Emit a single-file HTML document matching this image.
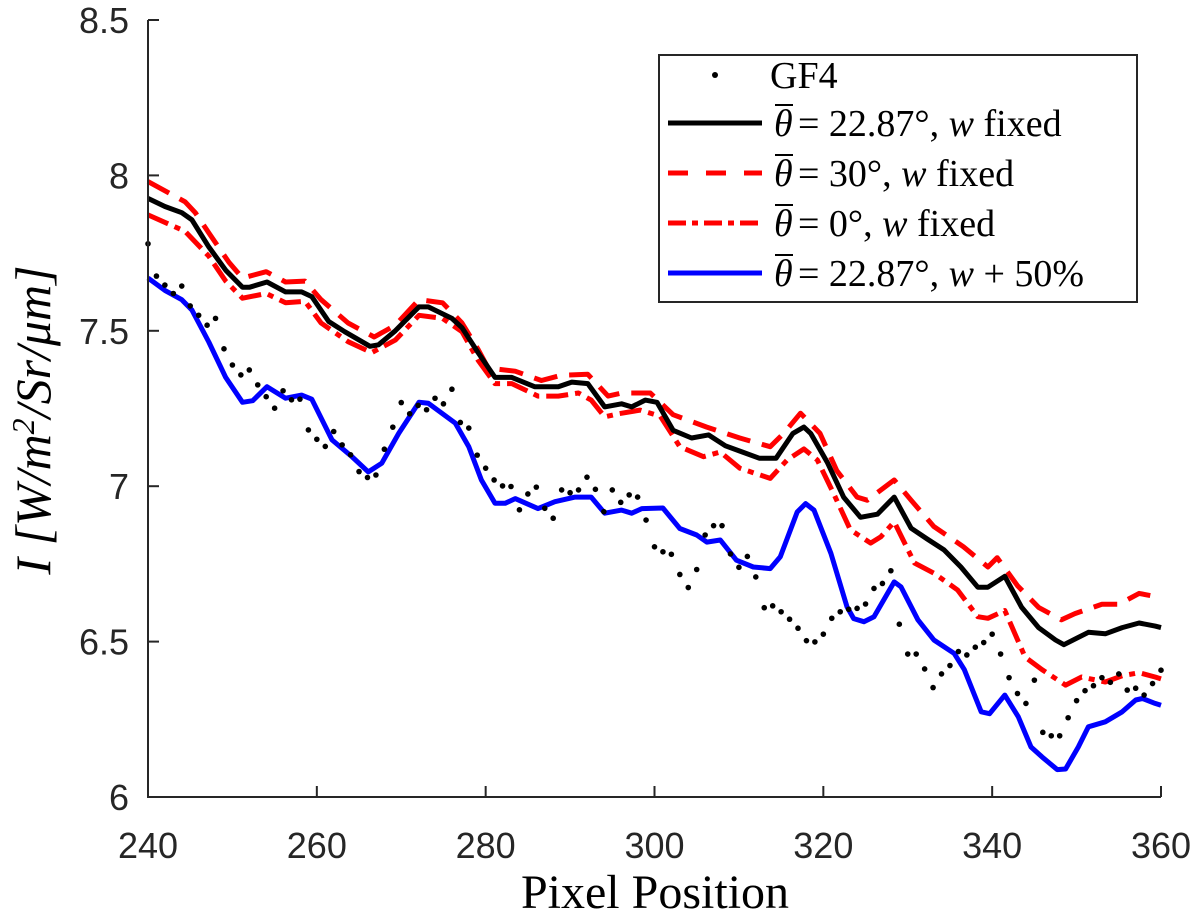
<!DOCTYPE html>
<html><head><meta charset="utf-8"><style>
html,body{margin:0;padding:0;background:#fff;}
svg{display:block;}
.tick{font-family:"Liberation Sans",Arial,sans-serif;font-size:36px;fill:#262626;}
.ser{font-family:"Liberation Serif","DejaVu Serif",serif;fill:#000;}
</style></head><body>
<svg id="chart" width="1200" height="918" viewBox="0 0 1200 918">
<g id="marks"></g>
<g id="axes"></g>
<g id="legend"></g>
</svg>
<script>
const xTicks=[240,260,280,300,320,340,360];
const yTicks=[6,6.5,7,7.5,8,8.5];
const yTickLabels=["6","6.5","7","7.5","8","8.5"];
const gf4Start=240;
const gf4=[7.78,7.676,7.647,7.62,7.644,7.58,7.55,7.518,7.54,7.442,7.39,7.358,7.374,7.326,7.288,7.251,7.307,7.278,7.28,7.181,7.151,7.128,7.176,7.133,7.101,7.047,7.028,7.036,7.119,7.19,7.269,7.233,7.26,7.246,7.283,7.265,7.312,7.205,7.187,7.10,7.058,7.02,7.001,6.999,6.924,6.975,6.997,6.929,6.897,6.988,6.979,6.988,7.029,6.99,6.918,6.988,6.948,6.972,6.965,6.891,6.805,6.789,6.781,6.716,6.674,6.732,6.843,6.873,6.873,6.782,6.739,6.774,6.708,6.609,6.615,6.596,6.572,6.543,6.503,6.499,6.524,6.575,6.596,6.604,6.607,6.621,6.671,6.687,6.728,6.556,6.46,6.46,6.412,6.352,6.396,6.423,6.468,6.457,6.482,6.497,6.524,6.46,6.384,6.333,6.301,6.376,6.208,6.197,6.197,6.255,6.31,6.342,6.358,6.384,6.369,6.396,6.344,6.35,6.328,6.365,6.408];
const blackX=[240,242,244,245.2,247.2,249.2,251.2,252,254.1,256.3,258.2,259.4,261.4,263.3,266.3,267.3,269.3,272.1,273.2,276,277.2,279.1,281.1,283.1,285.8,288.6,290.2,292.1,294.1,296.1,297.3,298.9,300.3,302.2,304.4,306.4,308.4,310.4,312.4,314.4,316.4,317.7,318.5,320.5,322.4,324.4,326.4,328.4,330.4,332.3,334.3,336.3,338.3,339.5,341.5,343.5,345.5,347.5,348.5,351.4,353.4,355.4,357.4,359.3,360];
const blackY=[7.926,7.90,7.88,7.857,7.77,7.695,7.64,7.64,7.657,7.625,7.625,7.61,7.53,7.497,7.45,7.455,7.50,7.577,7.577,7.54,7.51,7.43,7.35,7.35,7.32,7.32,7.335,7.33,7.255,7.265,7.255,7.277,7.27,7.18,7.155,7.165,7.13,7.11,7.09,7.09,7.17,7.19,7.17,7.075,6.965,6.90,6.91,6.965,6.865,6.83,6.795,6.74,6.675,6.675,6.71,6.61,6.545,6.505,6.49,6.53,6.525,6.545,6.56,6.55,6.545];
const dashX=[240,244.4,245.6,247.2,249.6,251.2,254,256.3,258.6,260.5,263.7,266.8,269.3,272.1,274.9,277.2,279.1,280.3,283.5,286.6,289,292.1,294.5,296.1,299.5,302.2,306.2,310.1,313.7,315.3,317.3,319.6,321.6,324,325.2,328.4,330.4,333.1,336.6,339.5,340.6,343,345.5,348.2,349.8,353,355,357.4,359.3,360];
const dashY=[7.98,7.915,7.88,7.815,7.72,7.67,7.69,7.657,7.66,7.60,7.525,7.48,7.518,7.60,7.59,7.525,7.44,7.38,7.37,7.34,7.357,7.36,7.29,7.30,7.30,7.23,7.19,7.155,7.127,7.17,7.235,7.17,7.05,6.965,6.955,7.02,6.955,6.87,6.805,6.74,6.77,6.68,6.61,6.57,6.59,6.62,6.62,6.655,6.645,6.64];
const dotdashX=[240,244.4,247.2,249.2,251.2,254,256.3,258.6,260.5,263.7,266.5,269.3,272.1,274.9,277.2,279.1,281.1,283.1,286.2,288.6,291,292.5,294.1,295.7,298.3,300.7,303,305.8,307.8,310.1,313.7,315.7,317.7,319.3,321.2,323.2,325.6,326.8,328.4,330.8,333.1,335.9,338.3,339.5,341.5,343.9,345.9,348.7,350.6,353.4,355.4,357.4,359.3,360];
const dotdashY=[7.873,7.82,7.74,7.66,7.605,7.62,7.59,7.595,7.525,7.465,7.43,7.47,7.55,7.54,7.497,7.405,7.33,7.33,7.29,7.29,7.30,7.277,7.223,7.233,7.245,7.225,7.127,7.095,7.11,7.058,7.025,7.084,7.12,7.084,6.977,6.86,6.817,6.837,6.885,6.753,6.72,6.666,6.58,6.575,6.60,6.45,6.41,6.36,6.386,6.37,6.39,6.40,6.386,6.38];
const blueX=[240,242,244,245.2,247.2,249.2,251.2,252.4,254.1,256.3,258.2,259.4,261.8,264.2,266.1,267.7,269.7,272.1,273.2,276.4,278,279.5,281.1,282.3,283.5,286.2,288.2,290.6,292.5,294.1,296.1,297.3,298.5,301,303,305,306.2,307.8,309.7,311.7,313.7,314.9,316.9,317.9,318.9,320.9,322.8,323.6,324.8,326,328.4,329.2,331.2,333.1,335.5,336.7,338.7,339.7,341.5,343.1,344.6,345.9,347.7,348.7,350.2,351.4,353.4,355.4,357,357.8,359.3,360];
const blueY=[7.67,7.63,7.60,7.567,7.464,7.35,7.27,7.275,7.32,7.283,7.293,7.28,7.149,7.094,7.046,7.074,7.17,7.27,7.267,7.203,7.127,7.02,6.945,6.945,6.96,6.928,6.95,6.965,6.965,6.913,6.923,6.913,6.928,6.93,6.864,6.843,6.82,6.827,6.762,6.74,6.735,6.773,6.917,6.944,6.923,6.784,6.612,6.574,6.564,6.58,6.692,6.676,6.57,6.505,6.462,6.41,6.274,6.268,6.328,6.258,6.161,6.129,6.088,6.09,6.161,6.226,6.242,6.274,6.312,6.317,6.301,6.295];

const X0=148,X1=1161,Y0=797,Y1=20;
const xs=v=>X0+(v-240)/(360-240)*(X1-X0);
const ys=v=>Y0-(v-6)/(8.5-6)*(Y0-Y1);
const NS="http://www.w3.org/2000/svg";
function mk(tag,attrs,parent){const e=document.createElementNS(NS,tag);for(const k in attrs)e.setAttribute(k,attrs[k]);parent.appendChild(e);return e;}
const marks=document.getElementById('marks'),axes=document.getElementById('axes');

function line(xa,ya,color,dash,name){
  const d=xa.map((x,i)=>(i?'L':'M')+xs(x).toFixed(1)+','+ys(ya[i]).toFixed(1)).join('');
  const p=mk('path',{d:d,fill:'none',stroke:color,'stroke-width':5,'stroke-linejoin':'round'},marks);
  if(dash)p.setAttribute('stroke-dasharray',dash);
  
  
}
line(dashX,dashY,'#ff0000','24,12','series-theta-30');
line(dotdashX,dotdashY,'#ff0000','22,7,6,7','series-theta-0');
line(blackX,blackY,'#000','', 'series-theta-22-87');
line(blueX,blueY,'#0000ff','', 'series-w-plus-50');
gf4.forEach((v,i)=>{
  const c=mk('circle',{cx:xs(gf4Start+i),cy:ys(v),r:2.8,fill:'#000'},marks);
  
  
});

const ax=mk('path',{d:`M${X0},${Y1}L${X0},${Y0}L${X1},${Y0}`,fill:'none',stroke:'#262626','stroke-width':2},axes);


xTicks.forEach(t=>{
  mk('line',{x1:xs(t),x2:xs(t),y1:Y0,y2:Y0-11,stroke:'#262626','stroke-width':2},axes);
  const tx=mk('text',{x:xs(t),y:858,'text-anchor':'middle',class:'tick'},axes);
  tx.textContent=t;
  
  
});
yTicks.forEach((t,i)=>{
  mk('line',{x1:X0,x2:X0+11,y1:ys(t),y2:ys(t),stroke:'#262626','stroke-width':2},axes);
  const tx=mk('text',{x:129,y:ys(t)+13,'text-anchor':'end',class:'tick'},axes);
  tx.textContent=yTickLabels[i];
  
  
});

const svg=document.getElementById('chart');
function entry(y,name,rest){
  return `<text class="ser" x="774" y="${y}" font-size="38" font-style="italic">θ</text>
<line x1="775" x2="793" y1="${y-31}" y2="${y-31}" stroke="#000" stroke-width="2"/>
<text class="ser" x="798" y="${y}" font-size="38">${rest}</text>`;
}
svg.insertAdjacentHTML('beforeend',`
<text class="ser" x="655" y="908" text-anchor="middle" font-size="48">Pixel Position</text>
<text class="ser" transform="translate(50,420) rotate(-90)" text-anchor="middle" font-size="50" font-style="italic">I [W/m<tspan dy="-16" font-size="32">2</tspan><tspan dy="16">/Sr/μm]</tspan></text>
<g>
<rect x="659" y="55" width="478" height="247" fill="#fff" stroke="#262626" stroke-width="2"/>
<circle cx="715" cy="75" r="3" fill="#000"/>
<text class="ser" x="770" y="88" font-size="38">GF4</text>
<line x1="668" x2="762" y1="123" y2="123" stroke="#000" stroke-width="5"/>
${entry(136,'legend-entry-black',' = 22.87°, <tspan font-style="italic">w</tspan> fixed')}
<line x1="668" x2="762" y1="173" y2="173" stroke="#f00" stroke-width="5" stroke-dasharray="20,18"/>
${entry(186,'legend-entry-red-dash',' = 30°, <tspan font-style="italic">w</tspan> fixed')}
<line x1="668" x2="762" y1="223" y2="223" stroke="#f00" stroke-width="5" stroke-dasharray="18,6,6,6"/>
${entry(236,'legend-entry-red-dashdot',' = 0°, <tspan font-style="italic">w</tspan> fixed')}
<line x1="668" x2="762" y1="273" y2="273" stroke="#00f" stroke-width="5"/>
${entry(286,'legend-entry-blue',' = 22.87°, <tspan font-style="italic">w</tspan> + 50%')}
</g>`);
</script>
</body></html>
